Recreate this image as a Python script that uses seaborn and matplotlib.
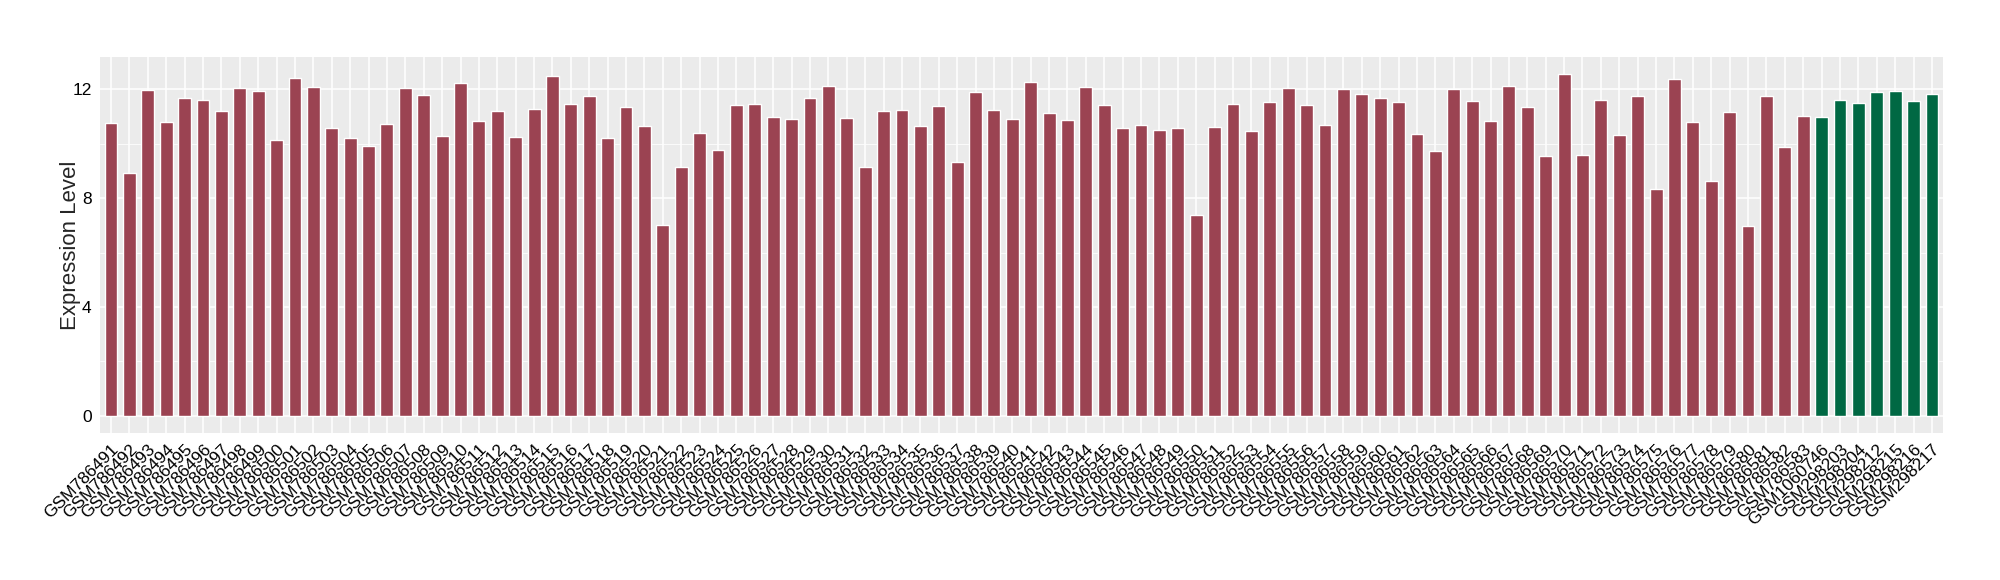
import numpy as np
import pandas as pd
import matplotlib
matplotlib.use("Agg")
import matplotlib.pyplot as plt
from matplotlib.ticker import FixedLocator
import seaborn as sns

# data
red_samples = [f"GSM{n}" for n in range(786491, 786584)]
green_samples = ["GSM1060746", "GSM298203", "GSM298204", "GSM298212",
                 "GSM298215", "GSM298216", "GSM298217"]

red_values = [
    10.75, 8.92, 11.96, 10.79, 11.67, 11.60, 11.19, 12.04, 11.93, 10.13,
    12.40, 12.07, 10.57, 10.20, 9.91, 10.72, 12.04, 11.78, 10.28, 12.22,
    10.83, 11.19, 10.24, 11.27, 12.48, 11.45, 11.74, 10.20, 11.34, 10.64,
    7.01, 9.14, 10.39, 9.76, 11.41, 11.45, 10.97, 10.90, 11.67, 12.11,
    10.94, 9.14, 11.19, 11.23, 10.64, 11.38, 9.32, 11.89, 11.23, 10.90,
    12.26, 11.12, 10.86, 12.07, 11.41, 10.57, 10.68, 10.50, 10.57, 7.38,
    10.61, 11.45, 10.46, 11.52, 12.04, 11.41, 10.68, 12.00, 11.82, 11.67,
    11.52, 10.35, 9.72, 12.00, 11.56, 10.83, 12.11, 11.34, 9.54, 12.55,
    9.58, 11.60, 10.31, 11.74, 8.33, 12.37, 10.79, 8.62, 11.16, 6.97,
    11.74, 9.87, 11.01,
]
green_values = [10.97, 11.60, 11.49, 11.89, 11.93, 11.56, 11.82]

red_color = "#9B4352"
green_color = "#006843"

df = pd.DataFrame({
    "sample": red_samples + green_samples,
    "value": red_values + green_values,
    "group": ["a"] * len(red_samples) + ["b"] * len(green_samples),
})

sns.set_theme(style="darkgrid")
plt.rcParams["font.family"] = ["Liberation Sans", "DejaVu Sans"]

fig = plt.figure(figsize=(20, 5.8), dpi=100)
ax = fig.add_axes([0.05, 0.2534, 0.9215, 0.6483])
ax.set_facecolor("#EBEBEB")

sns.barplot(data=df, x="sample", y="value", hue="group",
            palette={"a": red_color, "b": green_color},
            dodge=False, width=0.7, legend=False, ax=ax, saturation=1)

n = len(df)
ax.set_xlim(-0.6, n - 1 + 0.6)
ax.set_ylim(-0.63, 13.18)
ax.set_yticks([0, 4, 8, 12])
ax.yaxis.set_minor_locator(FixedLocator([2, 6, 10]))
ax.grid(which="major", color="white", linewidth=1.1)
ax.grid(which="minor", axis="y", color="white", linewidth=0.55)
ax.set_axisbelow(True)
for s in ax.spines.values():
    s.set_visible(False)

ax.tick_params(axis="both", which="major", length=4, width=0.8,
               color="#333333", labelcolor="black", direction="out")
ax.tick_params(axis="y", which="minor", length=0)
ax.tick_params(axis="y", labelsize=12.5, pad=2)
ax.tick_params(axis="x", labelsize=12.5, pad=2)
plt.setp(ax.get_xticklabels(), rotation=45, ha="right", rotation_mode="anchor")

ax.set_xlabel("")
ax.set_ylabel("Expression Level", fontsize=16, labelpad=-6)

fig.savefig("out.png", dpi=100, facecolor="white")
